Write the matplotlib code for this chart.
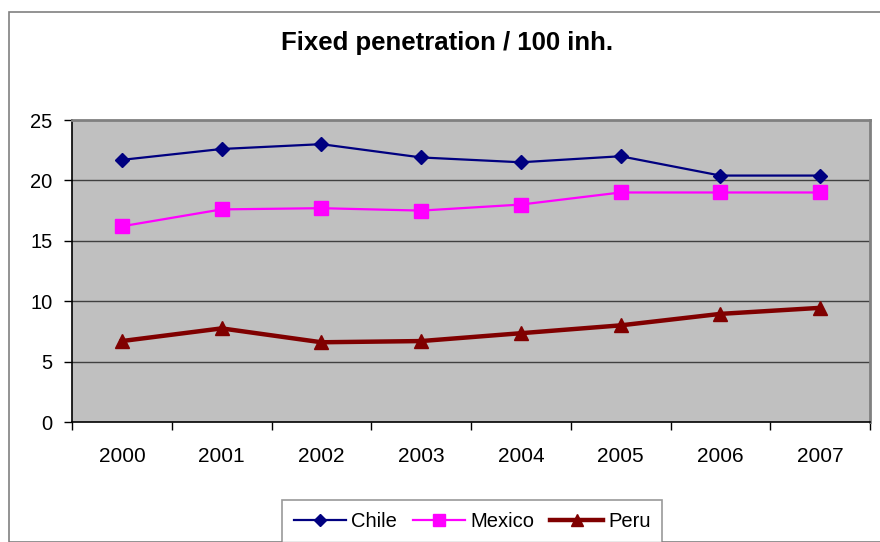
import matplotlib
matplotlib.use("Agg")
import matplotlib.pyplot as plt
from matplotlib.patches import Rectangle

plt.rcParams['font.family'] = ['Liberation Sans', 'DejaVu Sans']

years = ['2000', '2001', '2002', '2003', '2004', '2005', '2006', '2007']
chile = [21.7, 22.6, 23.0, 21.9, 21.5, 22.0, 20.4, 20.4]
mexico = [16.2, 17.6, 17.7, 17.5, 18.0, 19.0, 19.0, 19.0]
peru = [6.7, 7.75, 6.6, 6.7, 7.35, 8.0, 8.95, 9.45]
yticks = [0, 5, 10, 15, 20, 25]

W, H = 880, 542
fig = plt.figure(figsize=(W / 100, H / 100), dpi=100)
fig.patch.set_facecolor('white')

# outer chart frame
fig.patches.append(Rectangle((9 / W, 0), 1.0, 1 - 12 / H, transform=fig.transFigure,
                             fill=False, edgecolor='#808080', linewidth=1.2, clip_on=True))

ax = fig.add_axes([72 / W, 120 / H, 798 / W, 302 / H])
ax.set_facecolor('#C0C0C0')

x = list(range(len(years)))
ax.plot(x, chile, color='#000080', linewidth=1.6, marker='D', markersize=7.2,
        label='Chile', zorder=3)
ax.plot(x, mexico, color='#FF00FF', linewidth=1.6, marker='s', markersize=9.8,
        label='Mexico', zorder=3)
ax.plot(x, peru, color='#800000', linewidth=3.2, marker='^', markersize=10,
        label='Peru', zorder=3)

ax.set_xlim(-0.5, len(years) - 0.5)
ax.set_ylim(0, 25)
ax.set_yticks(yticks)
ax.set_yticklabels([str(v) for v in yticks], fontsize=14.5)
ax.set_xticks(x)
ax.set_xticklabels(years, fontsize=15)
ax.tick_params(axis='x', length=0, pad=18)
ax.set_xticks([i - 0.5 for i in range(len(years) + 1)], minor=True)
ax.tick_params(axis='x', which='minor', length=6, width=1, color='black', direction='out')
ax.tick_params(axis='y', length=6, width=1, color='black', direction='out', pad=8)

for v in yticks[1:-1]:
    ax.axhline(v, color='#404040', linewidth=1.0, zorder=1)

for side in ['left', 'bottom']:
    ax.spines[side].set_color('black')
    ax.spines[side].set_linewidth(1.2)
for side in ['top', 'right']:
    ax.spines[side].set_color('#808080')
    ax.spines[side].set_linewidth(2)

fig.text(447 / W, 1 - 43 / H, 'Fixed penetration / 100 inh.', ha='center', va='center',
         fontsize=18.5, fontweight='bold')

leg = fig.legend(loc='upper center', bbox_to_anchor=(472 / W, 1 - 490 / H), ncol=3,
                 fontsize=14.5, frameon=True, fancybox=False, handlelength=2.6,
                 handletextpad=0.25, columnspacing=0.8, borderpad=0.6,
                 edgecolor='#808080', markerscale=0.85)
leg.get_frame().set_linewidth(1.2)

fig.savefig('out.png', dpi=100, facecolor='white')
